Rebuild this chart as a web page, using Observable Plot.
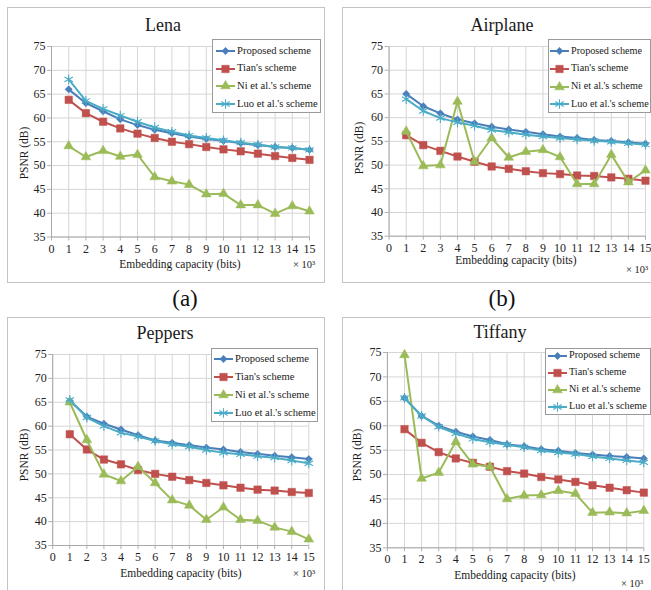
<!DOCTYPE html>
<html><head><meta charset="utf-8">
<script src="https://cdn.jsdelivr.net/npm/d3@7"></script>
<script src="https://cdn.jsdelivr.net/npm/@observablehq/plot@0.6"></script>
<style>
body{margin:0;background:#fff;}
#root{position:relative;width:651px;height:590px;overflow:hidden;background:#fff;font-family:'Liberation Serif','Times New Roman',serif;color:#1a1a1a;}
.panel{position:absolute;border:1px solid #c4c4c4;box-sizing:border-box;background:#fff;}
.abs{position:absolute;white-space:nowrap;line-height:1;}
.center{transform:translate(-50%,-50%);}
.title{font-size:18px;}
.xlab{font-size:11.5px;}
.exp{font-size:10.5px;}
.ylab{font-size:11.5px;transform:translate(-50%,-50%) rotate(-90deg);}
.tag{font-size:23px;color:#111;}
.legend{position:absolute;border:1px solid #9a9a9a;background:#fff;box-sizing:border-box;overflow:hidden;}
.row{position:absolute;height:14px;display:flex;align-items:center;white-space:nowrap;line-height:1;}
.row svg{display:block;margin-right:1px;}
</style></head><body><div id="root"></div>
<script>
// ---- data ----
const capacity = [1, 2, 3, 4, 5, 6, 7, 8, 9, 10, 11, 12, 13, 14, 15];
const xTicks = [0, 1, 2, 3, 4, 5, 6, 7, 8, 9, 10, 11, 12, 13, 14, 15];
const yTicks = [35, 40, 45, 50, 55, 60, 65, 70, 75];
const seriesNames = ["Proposed scheme", "Tian's scheme", "Ni et al.'s scheme", "Luo et al.'s scheme"];
const seriesColors = ["#4a7ebb", "#c0504d", "#9bbb59", "#4bacc6"];
const seriesSymbols = ["diamond2", "square", "triangle", "asterisk"];
const panelTitles = ["Lena", "Airplane", "Peppers", "Tiffany"];
const panelTags = ["(a)", "(b)"];

const lenaProposed = [66.0, 63.1, 61.4, 59.7, 58.5, 57.5, 56.8, 56.1, 55.6, 55.2, 54.7, 54.3, 53.9, 53.7, 53.3];
const lenaTian     = [63.8, 61.0, 59.2, 57.8, 56.7, 55.8, 55.0, 54.5, 53.9, 53.4, 53.0, 52.5, 52.0, 51.6, 51.2];
const lenaNi       = [54.1, 51.8, 53.1, 51.9, 52.3, 47.6, 46.7, 46.0, 44.0, 44.1, 41.7, 41.7, 39.9, 41.5, 40.4];
const lenaLuo      = [68.1, 63.6, 61.9, 60.5, 59.2, 58.0, 57.1, 56.3, 55.8, 55.3, 54.8, 54.4, 53.9, 53.7, 53.3];

const airplaneProposed = [65.0, 62.4, 60.9, 59.6, 58.8, 58.1, 57.5, 57.0, 56.5, 56.0, 55.7, 55.3, 55.1, 54.8, 54.5];
const airplaneTian     = [56.3, 54.2, 53.0, 51.8, 50.7, 49.7, 49.2, 48.7, 48.3, 48.1, 47.8, 47.7, 47.4, 47.1, 46.7];
const airplaneNi       = [57.1, 49.8, 50.0, 63.4, 50.7, 55.7, 51.6, 52.8, 53.2, 51.7, 46.0, 46.0, 52.2, 46.4, 48.9];
const airplaneLuo      = [63.9, 61.4, 59.9, 59.0, 58.3, 57.4, 56.9, 56.4, 56.0, 55.7, 55.4, 55.1, 54.9, 54.6, 54.3];

const peppersProposed = [65.3, 62.0, 60.5, 59.3, 58.1, 57.0, 56.5, 56.0, 55.5, 55.1, 54.6, 54.2, 53.8, 53.5, 53.1];
const peppersTian     = [58.3, 55.1, 53.0, 52.0, 50.8, 50.0, 49.4, 48.7, 48.1, 47.6, 47.1, 46.7, 46.5, 46.2, 46.0];
const peppersNi       = [65.0, 57.1, 49.9, 48.5, 51.5, 48.1, 44.5, 43.4, 40.4, 43.0, 40.4, 40.2, 38.8, 37.9, 36.3];
const peppersLuo      = [65.5, 61.8, 60.0, 58.6, 57.8, 56.9, 56.2, 55.7, 55.0, 54.4, 54.1, 53.7, 53.4, 52.8, 52.2];

const tiffanyProposed = [65.7, 62.0, 60.0, 58.8, 57.8, 57.1, 56.2, 55.8, 55.2, 54.9, 54.4, 54.1, 53.8, 53.6, 53.3];
const tiffanyTian     = [59.3, 56.5, 54.6, 53.3, 52.4, 51.6, 50.7, 50.2, 49.5, 49.0, 48.5, 47.8, 47.3, 46.8, 46.3];
const tiffanyNi       = [74.5, 49.2, 50.4, 56.7, 52.1, 51.6, 45.0, 45.7, 45.8, 46.7, 46.1, 42.2, 42.3, 42.1, 42.6];
const tiffanyLuo      = [65.7, 62.0, 59.8, 58.4, 57.3, 56.6, 56.1, 55.6, 54.9, 54.5, 54.2, 53.7, 53.3, 52.9, 52.5];

const xTitle = "Embedding capacity (bits)";
const yTitle = "PSNR (dB)";
const xUnit = "× 10³";

// ---- layout ----
const panels = [
  {vals: [lenaProposed, lenaTian, lenaNi, lenaLuo],
   box: {l: 7, t: 7, w: 318, h: 276}, svg: {l: 7, t: 7, w: 318, h: 276, ml: 44, mr: 16, mt: 39, mb: 46.5},
   title: [163, 25], legend: {l: 212, t: 39, w: 109, h: 74, first: 12, gap: 17.7, fs: 10.6, pad: 2},
   ylab: [25, 153], xlab: [180, 265], exp: [304, 265]},
  {vals: [airplaneProposed, airplaneTian, airplaneNi, airplaneLuo],
   box: {l: 342, t: 7, w: 320, h: 276}, svg: {l: 342, t: 7, w: 309, h: 276, ml: 46.6, mr: 6, mt: 39, mb: 47.3},
   title: [502, 25], legend: {l: 548, t: 39, w: 103, h: 74, first: 11.7, gap: 17.9, fs: 10.2, pad: 0},
   ylab: [360, 148], xlab: [516, 261], exp: [637, 270]},
  {vals: [peppersProposed, peppersTian, peppersNi, peppersLuo],
   box: {l: 7, t: 317, w: 318, h: 290}, svg: {l: 7, t: 317, w: 318, h: 273, ml: 45.2, mr: 16.7, mt: 37, mb: 45},
   title: [165, 333], legend: {l: 211, t: 348, w: 107, h: 74, first: 11, gap: 18, fs: 10.6, pad: 1},
   ylab: [25, 455], xlab: [181, 574], exp: [304, 574]},
  {vals: [tiffanyProposed, tiffanyTian, tiffanyNi, tiffanyLuo],
   box: {l: 342, t: 317, w: 320, h: 290}, svg: {l: 342, t: 317, w: 309, h: 273, ml: 44.9, mr: 7.7, mt: 35, mb: 42.7},
   title: [500, 332], legend: {l: 545, t: 348, w: 106, h: 67, first: 7.5, gap: 17, fs: 10.2, pad: 1},
   ylab: [358, 455], xlab: [515, 576], exp: [632, 584]}
];
const tagPos = [[185, 298], [502, 298]];

const root = document.getElementById("root");

function addText(txt, cls, x, y) {
  const d = document.createElement("div");
  d.className = "abs " + cls;
  d.textContent = txt;
  d.style.left = x + "px";
  d.style.top = y + "px";
  root.appendChild(d);
  return d;
}

function dotOptions(i) {
  const c = seriesColors[i];
  const s = seriesSymbols[i];
  if (s === "asterisk") return {symbol: s, stroke: c, strokeWidth: 1.1, r: 4.6};
  if (s === "square") return {symbol: s, fill: c, stroke: c, strokeWidth: 0.5, r: 4.2};
  if (s === "triangle") return {symbol: s, fill: c, stroke: c, strokeWidth: 0.5, r: 3.6};
  return {symbol: s, fill: c, stroke: c, strokeWidth: 0.5, r: 3.3};
}

function swatch(i) {
  const ns = "http://www.w3.org/2000/svg";
  const svg = document.createElementNS(ns, "svg");
  svg.setAttribute("width", 21);
  svg.setAttribute("height", 14);
  const c = seriesColors[i];
  const line = document.createElementNS(ns, "line");
  line.setAttribute("x1", 1); line.setAttribute("x2", 20);
  line.setAttribute("y1", 7); line.setAttribute("y2", 7);
  line.setAttribute("stroke", c); line.setAttribute("stroke-width", 2);
  svg.appendChild(line);
  const symMap = {diamond2: d3.symbolDiamond2, square: d3.symbolSquare, triangle: d3.symbolTriangle, asterisk: d3.symbolAsterisk};
  const o = dotOptions(i);
  const p = document.createElementNS(ns, "path");
  p.setAttribute("d", d3.symbol(symMap[o.symbol], Math.PI * o.r * o.r)());
  p.setAttribute("transform", "translate(10.5,7)");
  p.setAttribute("fill", o.fill || "none");
  p.setAttribute("stroke", o.stroke);
  p.setAttribute("stroke-width", o.strokeWidth);
  svg.appendChild(p);
  return svg;
}

panels.forEach((p, k) => {
  const box = document.createElement("div");
  box.className = "panel";
  Object.assign(box.style, {left: p.box.l + "px", top: p.box.t + "px", width: p.box.w + "px", height: p.box.h + "px"});
  root.appendChild(box);

  const rows = [];
  seriesNames.forEach((s, i) => p.vals[i].forEach((v, j) => rows.push({cap: capacity[j], psnr: v, series: s})));
  const seriesMarks = seriesNames.flatMap((s, i) => {
    const d = rows.filter(r => r.series === s);
    return [
      Plot.line(d, {x: "cap", y: "psnr", stroke: seriesColors[i], strokeWidth: 2}),
      Plot.dot(d, {x: "cap", y: "psnr", ...dotOptions(i)})
    ];
  });

  const chart = Plot.plot({
    width: p.svg.w, height: p.svg.h,
    marginLeft: p.svg.ml, marginRight: p.svg.mr, marginTop: p.svg.mt, marginBottom: p.svg.mb,
    x: {domain: [0, 15]},
    y: {domain: [35, 75]},
    style: {fontFamily: "'Liberation Serif', 'Times New Roman', serif", fontSize: "12px", background: "transparent", overflow: "visible", color: "#222"},
    marks: [
      Plot.gridX(xTicks, {stroke: "#d6d6d6", strokeOpacity: 1}),
      Plot.gridY(yTicks, {stroke: "#d6d6d6", strokeOpacity: 1}),
      Plot.axisX(xTicks, {tickSize: 4, tickPadding: 3, stroke: "#b0b0b0", fill: "#222", label: null, tickFormat: d => String(d)}),
      Plot.axisY(yTicks, {tickSize: 4, tickPadding: 2, stroke: "#b0b0b0", fill: "#222", label: null, tickFormat: d => String(d)}),
      Plot.ruleX([0], {stroke: "#a8a8a8"}),
      Plot.ruleY([35], {stroke: "#a8a8a8"}),
      ...seriesMarks
    ]
  });
  chart.style.position = "absolute";
  chart.style.left = p.svg.l + "px";
  chart.style.top = p.svg.t + "px";
  root.appendChild(chart);

  addText(panelTitles[k], "center title", p.title[0], p.title[1]);
  addText(yTitle, "ylab", p.ylab[0], p.ylab[1]);
  addText(xTitle, "center xlab", p.xlab[0], p.xlab[1]);
  addText(xUnit, "center exp", p.exp[0], p.exp[1]);

  const lg = document.createElement("div");
  lg.className = "legend";
  Object.assign(lg.style, {left: p.legend.l + "px", top: p.legend.t + "px", width: p.legend.w + "px", height: p.legend.h + "px"});
  seriesNames.forEach((s, i) => {
    const r = document.createElement("div");
    r.className = "row";
    r.style.top = (p.legend.first + i * p.legend.gap - 7 - 1) + "px";
    r.style.left = p.legend.pad + "px";
    r.style.fontSize = p.legend.fs + "px";
    r.appendChild(swatch(i));
    const t = document.createElement("span");
    t.textContent = s;
    r.appendChild(t);
    lg.appendChild(r);
  });
  root.appendChild(lg);
});

panelTags.forEach((t, i) => addText(t, "center tag", tagPos[i][0], tagPos[i][1]));
</script>
</body></html>
